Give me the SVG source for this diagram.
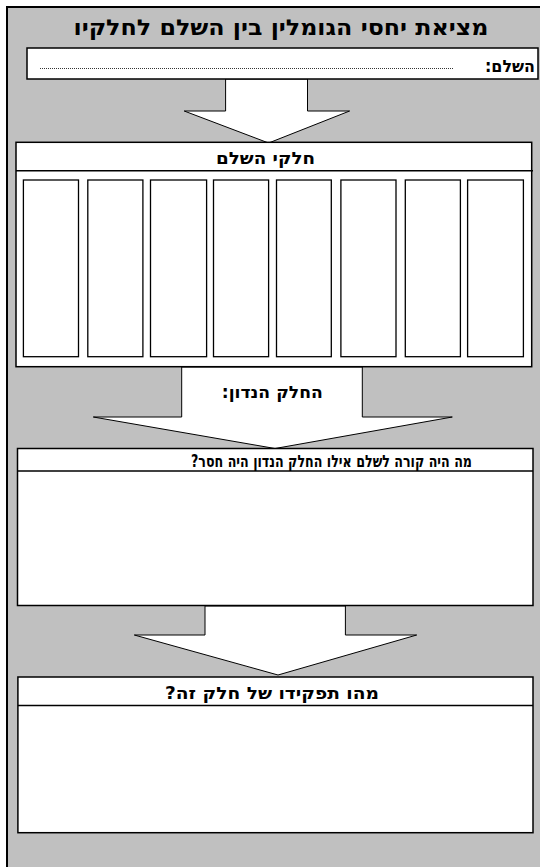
<svg xmlns="http://www.w3.org/2000/svg" width="540" height="867" viewBox="0 0 540 867">
<style>
.box{fill:#ffffff;stroke:#000000;stroke-width:1.5}
.col{fill:#ffffff;stroke:#000000;stroke-width:1.3}
.arrow{fill:#ffffff;stroke:#000000;stroke-width:1}
.sep{stroke:#000000;stroke-width:1.5;fill:none}
.t{font-family:"DejaVu Sans","Noto Sans",sans-serif;font-weight:bold;fill:#000000}
</style>
<rect x="0" y="0" width="540" height="867" fill="#ffffff"/>
<rect id="frame" x="7" y="7" width="560" height="900" fill="#c0c0c0" stroke="#000000" stroke-width="2"/>
<text class="t" x="281" y="35" font-size="22" text-anchor="middle" direction="rtl" textLength="415" lengthAdjust="spacingAndGlyphs">מציאת יחסי הגומלין בין השלם לחלקיו</text>
<g id="connectors">
<polygon class="arrow" points="225.6,79 225.6,111 184.2,111 268.6,143 349.6,111 307.5,111 307.5,79"/>
<polygon class="arrow" points="181.7,367 181.7,417 93.3,417 275,448.5 452.3,417 362.3,417 362.3,367"/>
<polygon class="arrow" points="205,606 205,635 134.3,635 278,675 416.7,635 345.4,635 345.4,606"/>
</g>
<text class="t" x="272.3" y="398" font-size="17" text-anchor="middle" direction="rtl" textLength="101" lengthAdjust="spacingAndGlyphs">החלק הנדון:</text>
<g id="whole">
<rect class="box" x="27" y="48" width="511" height="31"/>
<line x1="40" y1="68.5" x2="453" y2="68.5" stroke="#000000" stroke-width="0.8" stroke-dasharray="1,1"/>
<text class="t" x="510" y="72" font-size="17" text-anchor="middle" direction="rtl" textLength="50" lengthAdjust="spacingAndGlyphs">השלם:</text>
</g>
<g id="parts">
<rect class="box" x="16" y="142.3" width="515.7" height="224.4"/>
<line class="sep" x1="16" y1="170.7" x2="533" y2="170.7"/>
<text class="t" x="265.5" y="164" font-size="17" text-anchor="middle" direction="rtl" textLength="99" lengthAdjust="spacingAndGlyphs">חלקי השלם</text>
<rect class="col" x="23.4" y="180" width="55.1" height="176.7"/>
<rect class="col" x="87.8" y="180" width="55.1" height="176.7"/>
<rect class="col" x="150.5" y="180" width="56.1" height="176.7"/>
<rect class="col" x="213.5" y="180" width="55.1" height="176.7"/>
<rect class="col" x="276.5" y="180" width="54.8" height="176.7"/>
<rect class="col" x="340.9" y="180" width="55.1" height="176.7"/>
<rect class="col" x="405.3" y="180" width="55.1" height="176.7"/>
<rect class="col" x="467.6" y="180" width="55.8" height="176.7"/>
</g>
<g id="missing">
<rect class="box" x="17.5" y="448.5" width="515.5" height="157"/>
<line class="sep" x1="17.5" y1="471" x2="533" y2="471"/>
<text class="t" x="331.5" y="466.5" font-size="17" text-anchor="middle" direction="rtl" textLength="281" lengthAdjust="spacingAndGlyphs">מה היה קורה לשלם אילו החלק הנדון היה חסר?</text>
</g>
<g id="role">
<rect class="box" x="17.9" y="677" width="515.1" height="155.7"/>
<line class="sep" x1="17.9" y1="705.4" x2="533" y2="705.4"/>
<text class="t" x="272" y="699" font-size="17" text-anchor="middle" direction="rtl" textLength="214" lengthAdjust="spacingAndGlyphs">מהו תפקידו של חלק זה?</text>
</g>
</svg>
